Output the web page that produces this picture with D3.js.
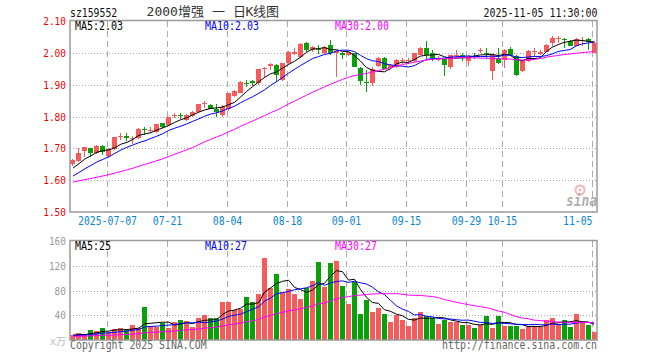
<!DOCTYPE html>
<html lang="zh-CN">
<head>
<meta charset="UTF-8">
<title>2000增强 一 日K线图</title>
<style>
  body { margin: 0; background: #fff; }
  svg { display: block; }
  text { font-family: 'DejaVu Sans Mono', monospace; }
</style>
</head>
<body>
<div id="chart"></div>
<script src="https://d3js.org/d3.v7.min.js"></script>
<script>
// trading days shown (88)
const dates = [
  "06-27","06-30","07-01","07-02","07-03","07-04",
  "07-07","07-08","07-09","07-10","07-11","07-14","07-15","07-16","07-17","07-18",
  "07-21","07-22","07-23","07-24","07-25","07-28","07-29","07-30","07-31","08-01",
  "08-04","08-05","08-06","08-07","08-08","08-11","08-12","08-13","08-14","08-15",
  "08-18","08-19","08-20","08-21","08-22","08-25","08-26","08-27","08-28","08-29",
  "09-01","09-02","09-03","09-04","09-05","09-08","09-09","09-10","09-11","09-12",
  "09-15","09-16","09-17","09-18","09-19","09-22","09-23","09-24","09-25","09-26",
  "09-29","09-30","10-09","10-10",
  "10-13","10-14","10-15","10-16","10-17","10-20","10-21","10-22","10-23","10-24",
  "10-27","10-28","10-29","10-30","10-31","11-03","11-04","11-05"
];

const open = [1.650,1.660,1.692,1.700,1.684,1.706,1.676,1.698,1.737,1.738,
  1.728,1.731,1.760,1.755,1.752,1.780,1.773,1.803,1.806,1.789,
  1.801,1.815,1.838,1.835,1.824,1.805,1.822,1.865,1.875,1.906,
  1.910,1.904,1.948,1.960,1.961,1.915,1.967,1.995,1.988,2.031,
  2.009,2.013,1.999,2.025,1.998,1.998,1.993,1.998,1.952,1.909,
  1.905,1.958,1.983,1.952,1.955,1.975,1.973,1.973,1.994,2.014,
  1.999,1.978,1.981,1.954,1.992,1.992,1.973,1.991,2.006,2.001,
  1.942,1.985,1.978,2.012,1.989,1.944,1.973,2.002,1.996,2.004,
  2.030,2.044,2.045,2.037,2.023,2.038,2.044,2.001];
const high = [1.668,1.700,1.704,1.701,1.709,1.709,1.700,1.737,1.747,1.747,
  1.740,1.763,1.766,1.766,1.778,1.781,1.800,1.812,1.810,1.808,
  1.817,1.840,1.848,1.838,1.839,1.835,1.875,1.883,1.910,1.915,
  1.916,1.950,1.956,1.969,1.964,1.968,2.006,2.014,2.031,2.034,
  2.022,2.024,2.021,2.040,2.008,2.004,2.006,2.000,1.955,1.946,
  1.955,1.987,1.986,1.966,1.981,1.985,1.985,2.001,2.017,2.038,
  2.009,1.990,1.985,1.994,2.010,2.000,1.992,1.998,2.016,2.015,
  1.996,2.015,2.012,2.018,1.992,1.975,2.008,2.015,2.008,2.028,
  2.054,2.054,2.046,2.040,2.048,2.050,2.046,2.036];
const low = [1.646,1.657,1.672,1.672,1.681,1.678,1.669,1.696,1.727,1.722,
  1.715,1.728,1.742,1.749,1.749,1.763,1.770,1.795,1.792,1.786,
  1.798,1.813,1.828,1.823,1.798,1.800,1.818,1.862,1.873,1.893,
  1.896,1.900,1.925,1.946,1.909,1.910,1.964,1.993,1.985,2.003,
  2.003,1.995,1.996,1.993,1.925,1.980,1.990,1.954,1.898,1.877,
  1.895,1.955,1.948,1.950,1.952,1.965,1.965,1.970,1.992,1.980,
  1.973,1.975,1.926,1.950,1.985,1.974,1.960,1.982,1.998,1.980,
  1.916,1.965,1.952,1.992,1.926,1.940,1.970,1.990,1.994,2.002,
  2.022,2.030,2.015,2.020,2.020,2.020,2.009,1.998];
const close = [1.662,1.684,1.703,1.684,1.706,1.687,1.697,1.735,1.740,1.734,
  1.734,1.761,1.757,1.759,1.776,1.768,1.799,1.806,1.801,1.806,
  1.815,1.839,1.842,1.825,1.814,1.831,1.873,1.881,1.908,1.902,
  1.905,1.948,1.951,1.965,1.930,1.967,2.003,2.003,2.029,2.008,
  2.017,2.009,2.019,1.998,2.005,1.994,2.003,1.956,1.913,1.904,
  1.950,1.985,1.950,1.962,1.979,1.979,1.976,1.999,2.015,1.994,
  1.983,1.985,1.962,1.992,1.994,1.988,1.989,1.987,2.009,1.998,
  1.994,1.968,2.009,1.994,1.931,1.973,2.006,2.006,2.004,2.025,
  2.046,2.047,2.042,2.022,2.043,2.040,2.033,2.031];
// volume, 万
const volume = [7.5,11,9,16.5,14.5,19,13,17.5,19,16,
  24,20,53,22,21,28,20,29,32,31,
  21,35,40,35,35,62,62,48,50,69,
  61,74,133,84,106,77,83,75,66,84,
  96,126,86,124,128,88,58,93,42,64,
  46,51,42,29,41,33,22,36,45,39,
  36,26,33,29,29,24,25,19,25,38,
  19,38,22,23,23,18,23,23,21,33,
  35,26,32,21,42,27,24,13];

// 29 sessions before the window, only used to warm up the moving averages
const priorClose = [1.572,1.580,1.585,1.578,1.570,1.575,1.582,1.590,1.588,1.580,
  1.575,1.583,1.590,1.595,1.588,1.582,1.590,1.596,1.592,1.599,
  1.575,1.580,1.585,1.595,1.605,1.615,1.628,1.636,1.649];
const priorVolume = [5,6,5,4,6,7,5,5,6,5,4,5,6,7,6,5,6,5,6,7,5,6,7,5,7,7,9,8,8.5];

const priceTicks = [2.10, 2.00, 1.90, 1.80, 1.70, 1.60, 1.50];
const volTicks = [160, 120, 80, 40];
const dateTicks = ["07-07","07-21","08-04","08-18","09-01","09-15","09-29","10-15","11-05"];
const dateTickLabels = ["2025-07-07","07-21","08-04","08-18","09-01","09-15","09-29","10-15","11-05"];

const W = 660, H = 360;
const plot = {l: 70, r: 597, t: 21, b: 212};
const vp = {t: 241, b: 340};
const RED = "#f65a5a", GREEN = "#08a108", GRID = "#aaa";

const svg = d3.select("#chart").append("svg").attr("width", W).attr("height", H);

const x = d3.scaleBand().domain(d3.range(dates.length)).range([plot.l, plot.r]);
const cx = i => x(i) + x.bandwidth() / 2;
const y = d3.scaleLinear().domain([1.50, 2.10]).range([plot.b, plot.t]);
const yv = d3.scaleLinear().domain([0, 160]).range([vp.b, vp.t]);

function ma(series, prior, n) {
  const all = prior.concat(series);
  return series.map((_, i) => d3.mean(all.slice(i + prior.length - n + 1, i + prior.length + 1)));
}

function label(s, xp, yp, color, opt = {}) {
  const t = svg.append("text").attr("x", xp).attr("y", yp).attr("fill", color)
    .attr("font-size", opt.size || 12).attr("text-anchor", opt.anchor || "start").text(s);
  if (opt.cw) t.attr("textLength", s.length * opt.cw).attr("lengthAdjust", "spacingAndGlyphs");
  return t;
}

// grids
const gridX = d => Math.round(x(dates.indexOf(d)) + 1) + 0.5;
[[plot.t, plot.b], [vp.t, vp.b]].forEach(([t, b]) => {
  svg.append("g").selectAll("line").data(dateTicks).join("line")
    .attr("x1", gridX).attr("x2", gridX).attr("y1", t).attr("y2", b)
    .attr("stroke", GRID).attr("stroke-dasharray", "6,4");
});
svg.append("g").selectAll("line").data(priceTicks.slice(1, -1)).join("line")
  .attr("x1", plot.l).attr("x2", plot.r)
  .attr("y1", d => Math.round(y(d)) + 0.5).attr("y2", d => Math.round(y(d)) + 0.5)
  .attr("stroke", GRID).attr("stroke-dasharray", "1,2");
svg.append("g").selectAll("line").data(volTicks.slice(1)).join("line")
  .attr("x1", plot.l).attr("x2", plot.r)
  .attr("y1", d => Math.round(yv(d)) + 0.5).attr("y2", d => Math.round(yv(d)) + 0.5)
  .attr("stroke", GRID).attr("stroke-dasharray", "1,2");

// sina watermark
svg.append("circle").attr("cx", 580).attr("cy", 190).attr("r", 4.5)
  .attr("fill", "none").attr("stroke", "#f4b4b4").attr("stroke-width", 2);
svg.append("circle").attr("cx", 580).attr("cy", 190).attr("r", 1.5).attr("fill", "#f4b4b4");
svg.append("text").attr("x", 566).attr("y", 206).attr("fill", "#b0b0b0")
  .attr("font-family", "Liberation Sans, sans-serif").attr("font-size", 15)
  .attr("font-weight", "bold").attr("font-style", "italic")
  .attr("textLength", 31).attr("lengthAdjust", "spacingAndGlyphs").text("sina");

// candles
const idx = d3.range(dates.length);
const col = i => close[i] >= open[i] ? RED : GREEN;
const candles = svg.append("g").attr("shape-rendering", "crispEdges");
candles.selectAll("line").data(idx).join("line")
  .attr("x1", i => Math.round(cx(i) - 2.5) + 2.5).attr("x2", i => Math.round(cx(i) - 2.5) + 2.5)
  .attr("y1", i => y(high[i])).attr("y2", i => y(low[i]))
  .attr("stroke", col);
candles.selectAll("rect").data(idx).join("rect")
  .attr("x", i => Math.round(cx(i) - 2.5)).attr("width", 5)
  .attr("y", i => y(Math.max(open[i], close[i])))
  .attr("height", i => Math.max(1, Math.abs(y(open[i]) - y(close[i]))))
  .attr("fill", col);

// volume bars
svg.append("g").attr("shape-rendering", "crispEdges")
  .selectAll("rect").data(idx).join("rect")
  .attr("x", i => Math.round(cx(i) - 2.5)).attr("width", 5)
  .attr("y", i => yv(volume[i])).attr("height", i => vp.b - yv(volume[i]))
  .attr("fill", col);

// moving averages
const maDefs = [[5, "#000"], [10, "#0000ff"], [30, "#ff00ff"]];
const priceMA = maDefs.map(([n, c]) => ({n, c, v: ma(close, priorClose, n)}));
const volMA = maDefs.map(([n, c]) => ({n, c, v: ma(volume, priorVolume, n)}));
priceMA.forEach(m => svg.append("path").attr("fill", "none").attr("stroke", m.c)
  .attr("d", d3.line().x((d, i) => cx(i)).y(d => y(d))(m.v)));
volMA.forEach(m => svg.append("path").attr("fill", "none").attr("stroke", m.c)
  .attr("d", d3.line().x((d, i) => cx(i)).y(d => yv(d))(m.v)));

// frames
svg.append("rect").attr("x", plot.l).attr("y", plot.t - 0.5)
  .attr("width", plot.r - plot.l).attr("height", plot.b - plot.t + 0.5)
  .attr("fill", "none").attr("stroke", "#9a9a9a").attr("stroke-width", 1.5);
svg.append("rect").attr("x", plot.l).attr("y", vp.t - 0.5)
  .attr("width", plot.r - plot.l).attr("height", vp.b - vp.t + 0.5)
  .attr("fill", "none").attr("stroke", "#9a9a9a").attr("stroke-width", 1.5);

// legends
const legX = [75, 205, 335];
priceMA.forEach((m, k) => {
  const s = `MA${m.n}:${m.v[m.v.length - 1].toFixed(2)}`;
  label(s, legX[k], 29.5, m.c, {cw: 6});
});
volMA.forEach((m, k) => {
  const s = `MA${m.n}:${Math.floor(m.v[m.v.length - 1])}`;
  label(s, legX[k], 249.5, m.c, {cw: 6});
});

// axis labels (the last one is kept inside the frame)
priceTicks.forEach(p => label(p.toFixed(2), 66, y(p) + 4, "#e00", {anchor: "end", cw: 5.7, size: 11}));
volTicks.forEach(v => label(String(v), 66, yv(v) + 4, "#999", {anchor: "end", cw: 5.7, size: 11}));
dateTicks.forEach((d, k) => {
  const last = k === dateTicks.length - 1;
  label(dateTickLabels[k], last ? gridX(d) : gridX(d), 225, "#0a84d8",
    {anchor: last ? "end" : "middle", cw: 5.9});
});
label("x万", 50, 345, "#bbb", {size: 10});

// header / footer
label("sz159552", 70, 16.5, "#111", {cw: 5.9});
svg.append("text").attr("x", 213).attr("y", 16).attr("text-anchor", "middle")
  .attr("fill", "#333").attr("font-family", "'Noto Sans CJK SC', sans-serif")
  .attr("font-size", 13).text("2000增强 一 日K线图");
label("2025-11-05 11:30:00", 597.5, 16.5, "#111", {anchor: "end", cw: 6});
label("Copyright 2025 SINA.COM", 70, 349, "#666", {cw: 5.94});
label("http://finance.sina.com.cn", 597, 349, "#666", {anchor: "end", cw: 5.96});
</script>
</body>
</html>
